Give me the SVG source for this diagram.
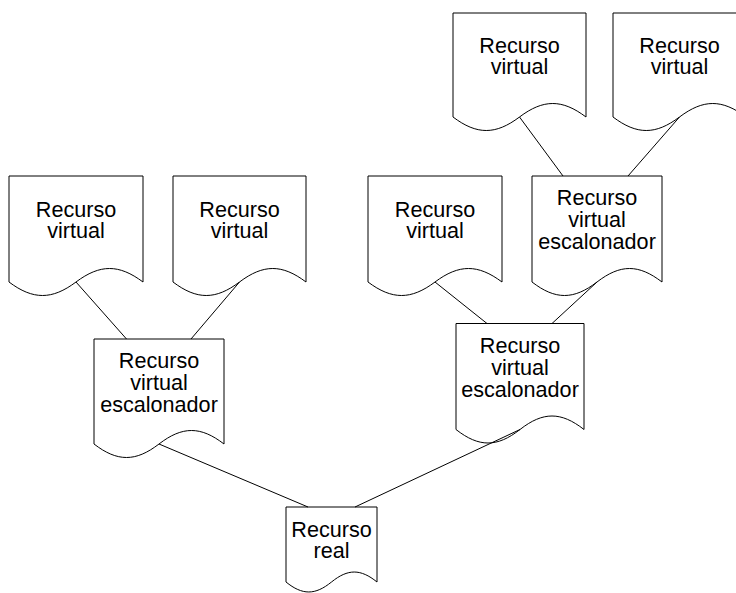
<svg xmlns="http://www.w3.org/2000/svg" width="736" height="593" viewBox="0 0 736 593">
  <style>
    .doc { fill: #ffffff; stroke: #000000; stroke-width: 1; }
    .lbl { font-family: "Liberation Sans", Arial, sans-serif; font-size: 21.6px; fill: #000000; text-anchor: middle; }
    .edge { stroke: #000000; stroke-width: 1; fill: none; }
  </style>
  <rect width="736" height="593" fill="#ffffff"/>

  <!-- document-shaped nodes: flat top, wavy bottom -->
  <g id="virtual-1" transform="translate(9,176)">
    <path class="doc" d="M0,0 H134 V106 C109.9,88 91.1,88 67,106 C42.9,124 24.1,124 0,106 Z"/>
    <text class="lbl" x="67" y="41">Recurso</text>
    <text class="lbl" x="67" y="62">virtual</text>
  </g>

  <g id="virtual-2" transform="translate(173,176)">
    <path class="doc" d="M0,0 H133 V106 C109.1,88 90.4,88 66.5,106 C42.6,124 23.9,124 0,106 Z"/>
    <text class="lbl" x="66.5" y="41">Recurso</text>
    <text class="lbl" x="66.5" y="62">virtual</text>
  </g>

  <g id="virtual-3" transform="translate(368,176)">
    <path class="doc" d="M0,0 H134 V106 C109.9,88 91.1,88 67,106 C42.9,124 24.1,124 0,106 Z"/>
    <text class="lbl" x="67" y="41">Recurso</text>
    <text class="lbl" x="67" y="62">virtual</text>
  </g>

  <g id="virtual-4" transform="translate(453,13)">
    <path class="doc" d="M0,0 H133 V104 C109.1,86 90.4,86 66.5,104 C42.6,122 23.9,122 0,104 Z"/>
    <text class="lbl" x="66.5" y="40">Recurso</text>
    <text class="lbl" x="66.5" y="61">virtual</text>
  </g>

  <g id="virtual-5" transform="translate(613,13)">
    <path class="doc" d="M0,0 H133 V104 C109.1,86 90.4,86 66.5,104 C42.6,122 23.9,122 0,104 Z"/>
    <text class="lbl" x="66.5" y="40">Recurso</text>
    <text class="lbl" x="66.5" y="61">virtual</text>
  </g>

  <g id="scheduler-upper" transform="translate(532,176)">
    <path class="doc" d="M0,0 H130 V106 C106.6,88 88.4,88 65,106 C41.6,124 23.4,124 0,106 Z"/>
    <text class="lbl" x="65" y="29">Recurso</text>
    <text class="lbl" x="65" y="51">virtual</text>
    <text class="lbl" x="65" y="73">escalonador</text>
  </g>

  <g id="scheduler-left" transform="translate(94,339)">
    <path class="doc" d="M0,0 H130 V105 C106.6,87 88.4,87 65,105 C41.6,123 23.4,123 0,105 Z"/>
    <text class="lbl" x="65" y="29">Recurso</text>
    <text class="lbl" x="65" y="51">virtual</text>
    <text class="lbl" x="65" y="73">escalonador</text>
  </g>

  <g id="scheduler-right" transform="translate(456,323.5)">
    <path class="doc" d="M0,0 H128 V106 C105,88 87,88 64,106 C41,124 23,124 0,106 Z"/>
    <text class="lbl" x="64" y="29">Recurso</text>
    <text class="lbl" x="64" y="51">virtual</text>
    <text class="lbl" x="64" y="73">escalonador</text>
  </g>

  <g id="real" transform="translate(286,507)">
    <path class="doc" d="M0,0 H91 V75 C74.6,61.7 61.9,61.7 45.5,75 C29.1,88.3 16.4,88.3 0,75 Z"/>
    <text class="lbl" x="45.5" y="30">Recurso</text>
    <text class="lbl" x="45.5" y="51">real</text>
  </g>

  <!-- connectors: wave midpoint of child to top edge of parent -->
  <g id="connectors">
    <line class="edge" x1="76" y1="282" x2="126.5" y2="339"/>
    <line class="edge" x1="239.5" y1="282" x2="191" y2="339"/>
    <line class="edge" x1="435" y1="282" x2="487" y2="323.5"/>
    <line class="edge" x1="597" y1="282" x2="552" y2="323.5"/>
    <line class="edge" x1="519.5" y1="117" x2="563" y2="176"/>
    <line class="edge" x1="679.5" y1="117" x2="628" y2="176"/>
    <line class="edge" x1="159" y1="444" x2="308" y2="507"/>
    <line class="edge" x1="520" y1="429.5" x2="355" y2="507"/>
  </g>
</svg>
